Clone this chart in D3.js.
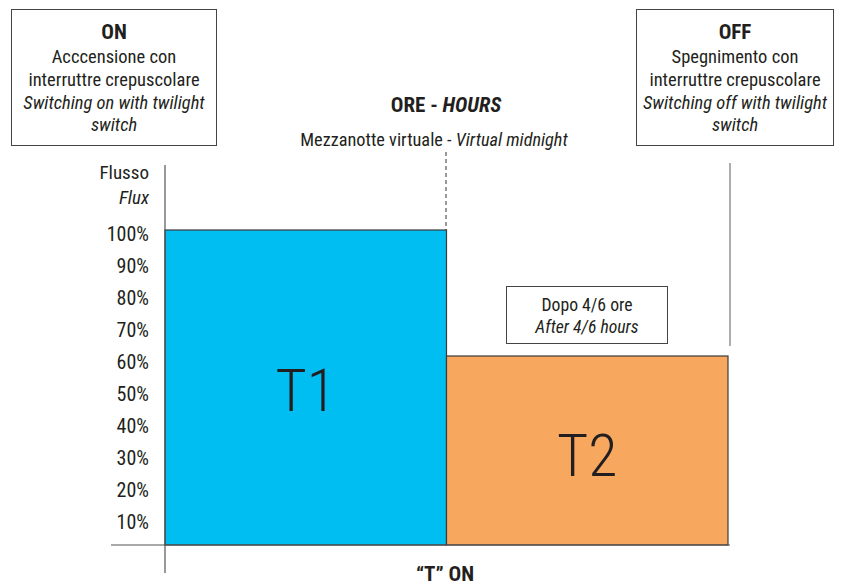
<!DOCTYPE html>
<html><head><meta charset="utf-8">
<script src="https://cdn.jsdelivr.net/npm/d3@7"></script>
<style>
body{margin:0;background:#fff;}
text{font-family:"Liberation Sans Narrow","Roboto Condensed","DejaVu Sans Condensed",sans-serif;fill:#231f20;}
</style></head><body>
<svg id="c" width="851" height="588"></svg>
<script>
const periods = ["T1", "T2"];
const fluxValues = [100, 60];
const tickLabels = [10, 20, 30, 40, 50, 60, 70, 80, 90, 100];

const svg = d3.select("#c");
const x = d3.scaleBand().domain(periods).range([165, 728]).padding(0);
const y = d3.scaleLinear().domain([0, 100]).range([545, 230]);
const yLab = d3.scaleLinear().domain([10, 100]).range([522, 234]);
const colors = d3.scaleOrdinal().domain(periods).range(["#00bef2", "#f8a85e"]);

// bars
svg.selectAll("rect.bar").data(periods).join("rect")
  .attr("class","bar")
  .attr("x", d => x(d)).attr("width", x.bandwidth())
  .attr("y", (d,i) => y(fluxValues[i])).attr("height", (d,i) => y(0) - y(fluxValues[i]))
  .attr("fill", d => colors(d)).attr("stroke", "#3a3a3a").attr("stroke-width", 1.2);

// bar labels
const labelY = [390, 455];
svg.selectAll("text.bl").data(periods).join("text")
  .attr("class","bl")
  .attr("x", d => x(d) + x.bandwidth()/2)
  .attr("y", (d,i) => labelY[i]).attr("dy","0.35em")
  .attr("text-anchor","middle").style("font-size","60px").style("font-weight","300")
  .text(d => d);

// axes lines
svg.append("line").attr("x1",165).attr("x2",165).attr("y1",165).attr("y2",573).attr("stroke","#555").attr("stroke-width",1.2);
svg.append("line").attr("x1",111).attr("x2",730).attr("y1",545).attr("y2",545).attr("stroke","#555").attr("stroke-width",1.2);

// y tick labels
svg.selectAll("text.tl").data(tickLabels).join("text")
  .attr("class","tl")
  .attr("x",149).attr("y", d => yLab(d)).attr("dy","0.35em")
  .attr("text-anchor","end").style("font-size","20px")
  .text(d => d + "%");

svg.append("text").attr("x",149).attr("y",172).attr("dy","0.35em").attr("text-anchor","end").style("font-size","19px").text("Flusso");
svg.append("text").attr("x",149).attr("y",197).attr("dy","0.35em").attr("text-anchor","end").style("font-size","19px").style("font-style","italic").text("Flux");

// dashed midnight line
svg.append("line").attr("x1",446).attr("x2",446).attr("y1",152).attr("y2",230).attr("stroke","#333").attr("stroke-dasharray","4,3").attr("stroke-width",1);
// off line
svg.append("line").attr("x1",730).attr("x2",730).attr("y1",163).attr("y2",346).attr("stroke","#777").attr("stroke-width",1.2);

// titles
const t1 = svg.append("text").attr("x",446).attr("y",105).attr("dy","0.35em").attr("text-anchor","middle").style("font-size","21px").style("font-weight","bold");
t1.append("tspan").text("ORE - ");
t1.append("tspan").style("font-style","italic").text("HOURS");

const t2 = svg.append("text").attr("x",434).attr("y",140).attr("dy","0.35em").attr("text-anchor","middle").style("font-size","18.3px");
t2.append("tspan").text("Mezzanotte virtuale - ");
t2.append("tspan").style("font-style","italic").text("Virtual midnight");

svg.append("text").attr("x",445).attr("y",574).attr("dy","0.35em").attr("text-anchor","middle").style("font-size","21px").style("font-weight","bold").text("\u201cT\u201d ON");

// boxes
function box(x0, y0, w, h, lines) {
  svg.append("rect").attr("x",x0).attr("y",y0).attr("width",w).attr("height",h).attr("fill","#fff").attr("stroke","#444").attr("stroke-width",1);
  lines.forEach(l => {
    svg.append("text").attr("x", x0 + w/2).attr("y", l.y).attr("dy","0.35em").attr("text-anchor","middle")
      .style("font-size", l.size + "px")
      .style("font-weight", l.bold ? "bold" : "normal")
      .style("font-style", l.italic ? "italic" : "normal")
      .text(l.t);
  });
}
box(11.5, 9.5, 205, 136, [
  {t:"ON", y:32, size:21, bold:true},
  {t:"Acccensione con", y:57, size:18.5},
  {t:"interruttre crepuscolare", y:80, size:18.5},
  {t:"Switching on with twilight", y:103, size:18.5, italic:true},
  {t:"switch", y:125, size:18.5, italic:true}
]);
box(636.5, 9.5, 197, 136, [
  {t:"OFF", y:32, size:21, bold:true},
  {t:"Spegnimento con", y:57, size:18.5},
  {t:"interruttre crepuscolare", y:80, size:18.5},
  {t:"Switching off with twilight", y:103, size:18.5, italic:true},
  {t:"switch", y:125, size:18.5, italic:true}
]);
box(506.5, 286.5, 161, 57, [
  {t:"Dopo 4/6 ore", y:305, size:17.7},
  {t:"After 4/6 hours", y:327, size:17.7, italic:true}
]);
</script>
</body></html>
